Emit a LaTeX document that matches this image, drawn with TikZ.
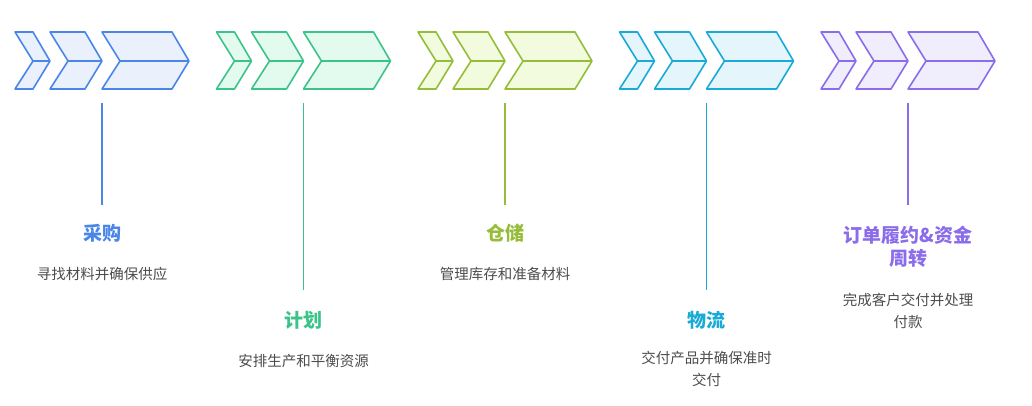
\documentclass[tikz,border=0pt]{standalone}
\usepackage{fontspec}
\setmainfont{Noto Sans CJK SC}
\usetikzlibrary{positioning}
\definecolor{cA}{HTML}{4A86E8}\definecolor{fA}{HTML}{EAF1FD}
\definecolor{cB}{HTML}{3CC38A}\definecolor{fB}{HTML}{E3FBEF}
\definecolor{cC}{HTML}{95BD3A}\definecolor{fC}{HTML}{F2FBDD}
\definecolor{cD}{HTML}{1AAAD8}\definecolor{fD}{HTML}{E4F6FC}
\definecolor{cE}{HTML}{8B6CEA}\definecolor{fE}{HTML}{F0EDFD}
\tikzset{
  chev/.style={line width=1.6pt,line join=round},
  stem/.style={line width=1.6pt},
  title/.style={font=\fontsize{19}{23}\selectfont\bfseries,align=center},
  desc/.style={font=\fontsize{14.5}{22}\selectfont,text=black!70,align=center},
}
\newcommand{\chevrons}[3]{%
  \begin{scope}[xshift=#1]
    \draw[chev,draw=#2,fill=#3] (15,32) -- (33,32) -- (50,61) -- (33,89) -- (15,89) -- (33,61) -- cycle (33,61) -- (50,61);
    \draw[chev,draw=#2,fill=#3] (50,32) -- (85,32) -- (102,61) -- (85,89) -- (50,89) -- (68,61) -- cycle (68,61) -- (102,61);
    \draw[chev,draw=#2,fill=#3] (102,32) -- (172,32) -- (189,61) -- (172,89) -- (102,89) -- (120,61) -- cycle (120,61) -- (189,61);
  \end{scope}}
\begin{document}
\begin{tikzpicture}[x=1pt,y=-1pt]
  \useasboundingbox (0,0) rectangle (1032,406);
  \chevrons{0}{cA}{fA}
  \chevrons{201.5}{cB}{fB}
  \chevrons{403}{cC}{fC}
  \chevrons{604.5}{cD}{fD}
  \chevrons{806}{cE}{fE}
  % stems
  \coordinate (sA) at (102,103); \coordinate (eA) at (102,205);
  \coordinate (sB) at (303.5,103); \coordinate (eB) at (303.5,290);
  \coordinate (sC) at (505,103); \coordinate (eC) at (505,205);
  \coordinate (sD) at (706.5,103); \coordinate (eD) at (706.5,290);
  \coordinate (sE) at (908,103); \coordinate (eE) at (908,205);
  \draw[stem,cA] (sA) -- (eA);
  \draw[stem,cB] (sB) -- (eB);
  \draw[stem,cC] (sC) -- (eC);
  \draw[stem,cD] (sD) -- (eD);
  \draw[stem,cE] (sE) -- (eE);
  % labels
  \node[title,text=cA] (tA) at (102,233) {采购};
  \node[desc] (dA) at (102,274) {寻找材料并确保供应};
  \node[title,text=cB] (tB) at (303.5,320) {计划};
  \node[desc] (dB) at (303.5,361) {安排生产和平衡资源};
  \node[title,text=cC] (tC) at (505,233) {仓储};
  \node[desc] (dC) at (505,274) {管理库存和准备材料};
  \node[title,text=cD] (tD) at (706.5,320) {物流};
  \node[desc] (dD) at (706.5,369) {交付产品并确保准时\\交付};
  \node[title,text=cE] (tE) at (908,247) {订单履约\&资金\\周转};
  \node[desc] (dE) at (908,311) {完成客户交付并处理\\付款};
\end{tikzpicture}
\end{document}
